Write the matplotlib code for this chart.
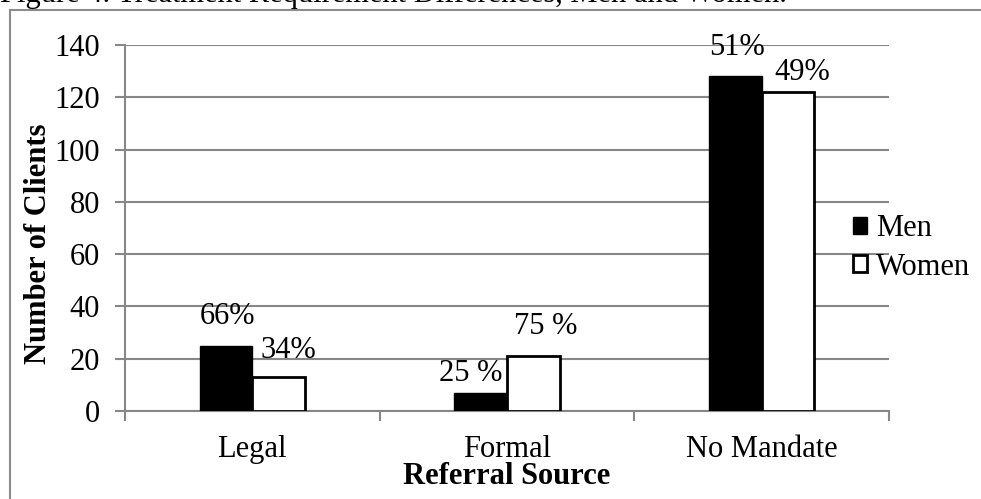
import matplotlib
matplotlib.use("Agg")
import matplotlib.pyplot as plt
from matplotlib.patches import Rectangle
import numpy as np

# Data
categories = ["Legal", "Formal", "No Mandate"]
men = [25, 7, 128]
women = [13, 21, 122]
men_labels = ["66%", "25 %", "51%"]
women_labels = ["34%", "75 %", "49%"]

plt.rcParams["font.family"] = ["Liberation Serif", "DejaVu Serif"]
grid_gray = "#878787"
fs = 22

fig = plt.figure(figsize=(9.81, 4.99), dpi=100)
ax = fig.add_axes([125 / 981, 1 - 411 / 499, 764 / 981, 366 / 499])

x = np.arange(len(categories))
w = 0.207
ax.bar(x - w / 2, men, w, color="black", edgecolor="black", linewidth=1.0,
       label="Men", zorder=3)
ax.bar(x + w / 2, women, w, color="white", edgecolor="black", linewidth=2.0,
       label="Women", zorder=3)

# percentage labels above bars (manual nudges like the original)
men_off = [(1, 21), (-7, 14), (1, 21)]
women_off = [(7, 19), (9, 21), (10, 14)]
for i in range(len(categories)):
    ax.annotate(men_labels[i], (x[i] - w / 2, men[i]), xytext=men_off[i],
                textcoords="offset points", ha="center", va="center",
                fontsize=fs, zorder=4, annotation_clip=False)
    ax.annotate(women_labels[i], (x[i] + w / 2, women[i]), xytext=women_off[i],
                textcoords="offset points", ha="center", va="center",
                fontsize=fs, zorder=4, annotation_clip=False)

ax.set_xlim(-0.5, len(categories) - 0.5)
ax.set_ylim(0, 140)
ax.set_yticks(range(0, 141, 20))
ax.yaxis.grid(True, color=grid_gray, linewidth=1.5, zorder=0)
ax.set_axisbelow(True)

ax.set_xticks(x)
ax.set_xticklabels(categories)
ax.set_xticks(np.arange(-0.5, len(categories), 1.0), minor=True)
ax.tick_params(axis="x", which="major", length=0, pad=17, labelsize=fs)
ax.tick_params(axis="x", which="minor", length=7, width=1.5, color=grid_gray,
               direction="out")
ax.tick_params(axis="y", length=7, width=1.5, color=grid_gray, pad=11,
               labelsize=fs)

for side in ["top", "right"]:
    ax.spines[side].set_visible(False)
for side in ["left", "bottom"]:
    ax.spines[side].set_color(grid_gray)
    ax.spines[side].set_linewidth(1.5)

ax.set_ylabel("Number of Clients", fontsize=fs, fontweight="bold", va="center")
ax.yaxis.set_label_coords(-0.113, 0.458)
ax.set_xlabel("Referral Source", fontsize=fs, fontweight="bold")
ax.xaxis.set_label_coords(0.5, -0.138)

leg = ax.legend(loc="center left", bbox_to_anchor=(853 / 981, 1 - 248 / 499),
                bbox_transform=fig.transFigure, frameon=False, fontsize=fs,
                handlelength=0.45, handleheight=0.45, handletextpad=0.3,
                labelspacing=0.3, borderpad=0, borderaxespad=0)

# outer chart border (only top and left visible in the crop)
fig.add_artist(Rectangle((10 / 981, -0.2), 1.2, 1.2 - 10 / 499, fill=False,
                         edgecolor="#8c8c8c", linewidth=1.5,
                         transform=fig.transFigure, clip_on=False))

fig.text(0, 1 - 2 / 499, "Figure 4. Treatment Requirement Differences, Men and Women.",
         va="baseline", ha="left", fontsize=fs)

fig.savefig("out.png", dpi=100)
